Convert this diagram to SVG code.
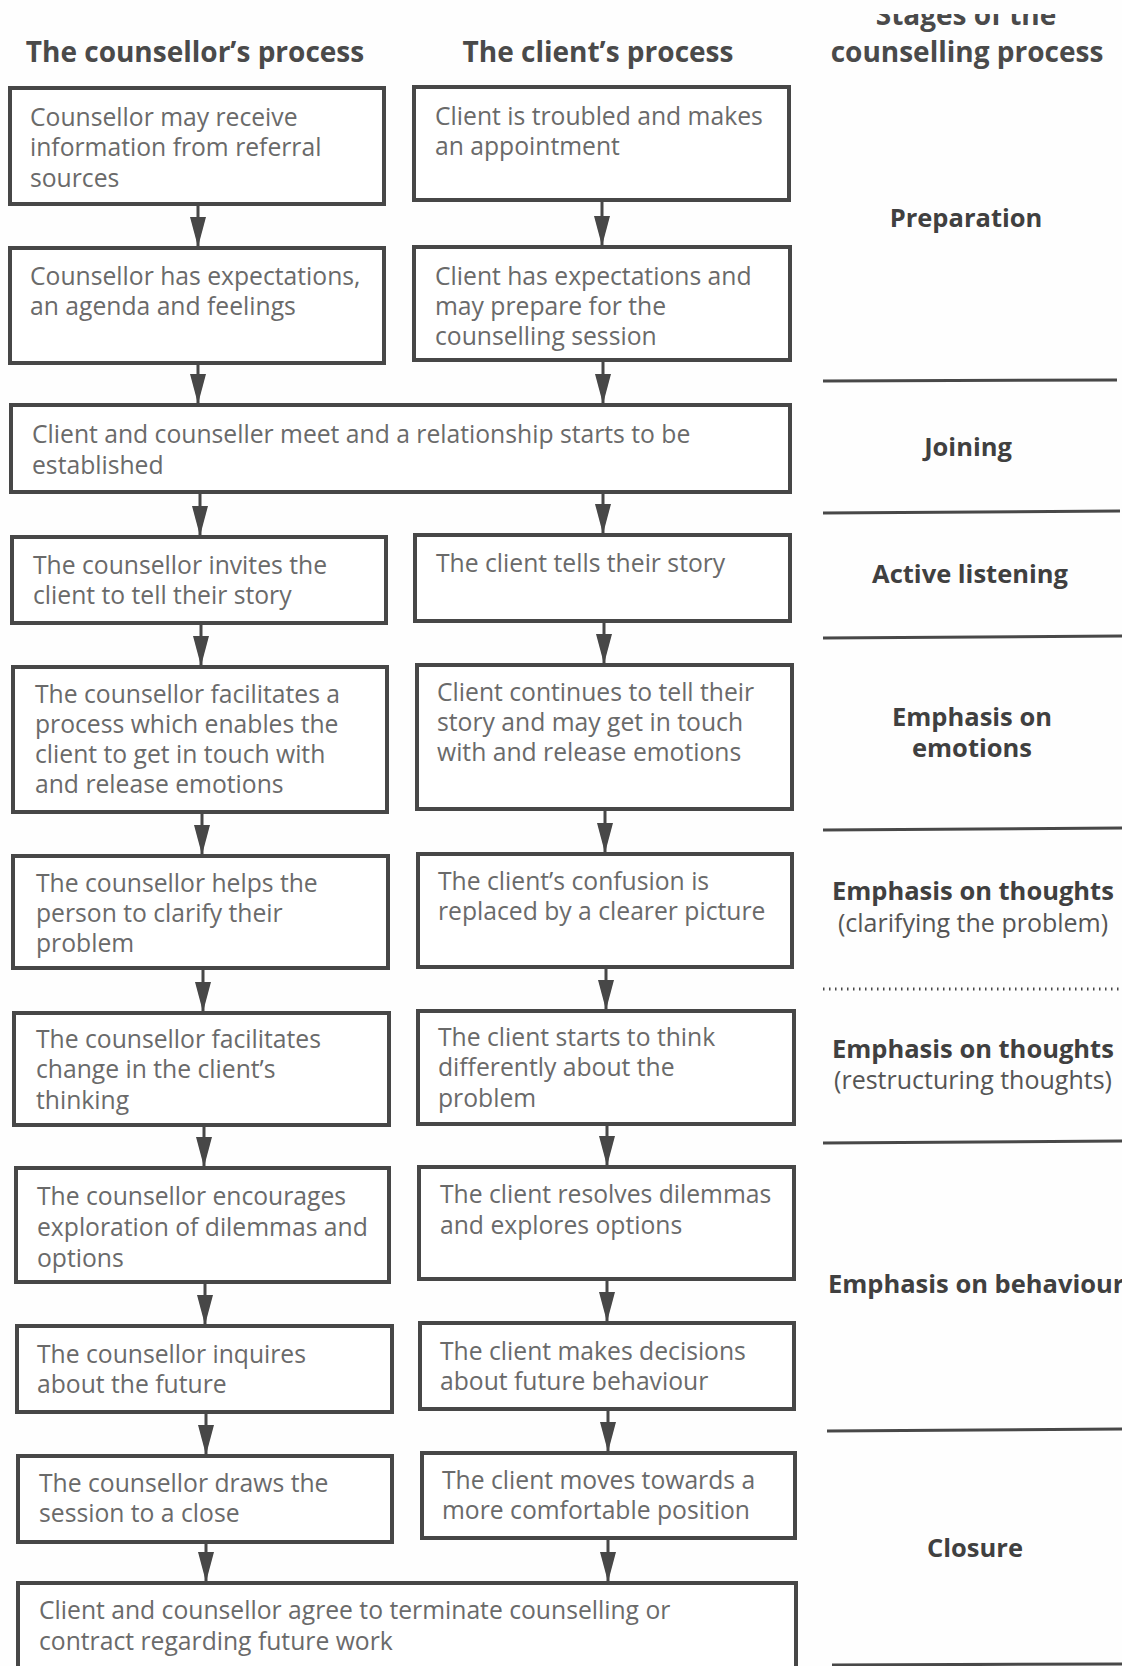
<svg xmlns="http://www.w3.org/2000/svg" width="1122" height="1666" viewBox="0 0 1122 1666">
<defs>
<style>
.box{fill:#fff;stroke:#474747;stroke-width:4}
.t{font-family:"Open Sans","Liberation Sans",sans-serif;font-size:24.7px;fill:#6a6a6a}
.h{font-family:"Open Sans","Liberation Sans",sans-serif;font-weight:700;font-size:28px;fill:#4a4a4a;text-anchor:middle}
.s{font-family:"Open Sans","Liberation Sans",sans-serif;font-weight:700;font-size:25.5px;fill:#404040;text-anchor:middle}
.sl{font-family:"Open Sans","Liberation Sans",sans-serif;font-weight:700;font-size:25.5px;fill:#404040}
.sr{font-family:"Open Sans","Liberation Sans",sans-serif;font-size:25px;fill:#555;text-anchor:middle}
.div{stroke:#484848;stroke-width:3;fill:none}
.dot{stroke:#484848;stroke-width:3;fill:none;stroke-dasharray:1.5 4.5}
.con{stroke:#474747;stroke-width:3;fill:none;marker-end:url(#ah)}
</style>
<marker id="ah" markerUnits="userSpaceOnUse" markerWidth="30" markerHeight="16" refX="29" refY="8" orient="auto">
<path d="M0,0 L30,8 L0,16 z" fill="#474747"/>
</marker>
<clipPath id="topclip"><rect x="800" y="14" width="322" height="40"/></clipPath>
</defs>
<rect x="0" y="0" width="1122" height="1666" fill="#fefefe"/>

<g id="headers">
<text class="h" x="195" y="62">The counsellor’s process</text>
<text class="h" x="598" y="62">The client’s process</text>
<text class="h" x="966" y="25" clip-path="url(#topclip)">Stages of the</text>
<text class="h" x="967" y="62">counselling process</text>
</g>

<g id="connectors">
<line class="con" x1="198" y1="204" x2="198" y2="246"/>
<line class="con" x1="198" y1="363" x2="198" y2="403"/>
<line class="con" x1="200" y1="492" x2="200" y2="535"/>
<line class="con" x1="201" y1="623" x2="201" y2="665"/>
<line class="con" x1="202" y1="812" x2="202" y2="854"/>
<line class="con" x1="203" y1="968" x2="203" y2="1011"/>
<line class="con" x1="204" y1="1125" x2="204" y2="1166"/>
<line class="con" x1="205" y1="1282" x2="205" y2="1324"/>
<line class="con" x1="206" y1="1412" x2="206" y2="1454"/>
<line class="con" x1="206" y1="1542" x2="206" y2="1581"/>
<line class="con" x1="602" y1="200" x2="602" y2="245"/>
<line class="con" x1="603" y1="360" x2="603" y2="403"/>
<line class="con" x1="603" y1="492" x2="603" y2="533"/>
<line class="con" x1="604" y1="621" x2="604" y2="663"/>
<line class="con" x1="605" y1="809" x2="605" y2="852"/>
<line class="con" x1="606" y1="967" x2="606" y2="1009"/>
<line class="con" x1="607" y1="1124" x2="607" y2="1165"/>
<line class="con" x1="607" y1="1279" x2="607" y2="1321"/>
<line class="con" x1="608" y1="1409" x2="608" y2="1451"/>
<line class="con" x1="608" y1="1538" x2="608" y2="1581"/>
</g>

<g id="c1"><rect class="box" x="10" y="88" width="374" height="116"/>
<text class="t" x="30" y="126">Counsellor may receive</text>
<text class="t" x="30" y="156">information from referral</text>
<text class="t" x="30" y="187">sources</text></g>
<g id="k1"><rect class="box" x="414" y="87" width="375" height="113"/>
<text class="t" x="435" y="125">Client is troubled and makes</text>
<text class="t" x="435" y="155">an appointment</text></g>

<g id="c2"><rect class="box" x="10" y="248" width="374" height="115"/>
<text class="t" x="30" y="285">Counsellor has expectations,</text>
<text class="t" x="30" y="315">an agenda and feelings</text></g>
<g id="k2"><rect class="box" x="414" y="247" width="376" height="113"/>
<text class="t" x="435" y="285">Client has expectations and</text>
<text class="t" x="435" y="315">may prepare for the</text>
<text class="t" x="435" y="345">counselling session</text></g>

<g id="j"><rect class="box" x="11" y="405" width="779" height="87"/>
<text class="t" x="32" y="443">Client and counseller meet and a relationship starts to be</text>
<text class="t" x="32" y="474">established</text></g>

<g id="c3"><rect class="box" x="12" y="537" width="374" height="86"/>
<text class="t" x="33" y="574">The counsellor invites the</text>
<text class="t" x="33" y="604">client to tell their story</text></g>
<g id="k3"><rect class="box" x="415" y="535" width="375" height="86"/>
<text class="t" x="436" y="572">The client tells their story</text></g>

<g id="c4"><rect class="box" x="13" y="667" width="374" height="145"/>
<text class="t" x="35" y="703">The counsellor facilitates a</text>
<text class="t" x="35" y="733">process which enables the</text>
<text class="t" x="35" y="763">client to get in touch with</text>
<text class="t" x="35" y="793">and release emotions</text></g>
<g id="k4"><rect class="box" x="417" y="665" width="375" height="144"/>
<text class="t" x="437" y="701">Client continues to tell their</text>
<text class="t" x="437" y="731">story and may get in touch</text>
<text class="t" x="437" y="761">with and release emotions</text></g>

<g id="c5"><rect class="box" x="13" y="856" width="375" height="112"/>
<text class="t" x="36" y="892">The counsellor helps the</text>
<text class="t" x="36" y="922">person to clarify their</text>
<text class="t" x="36" y="952">problem</text></g>
<g id="k5"><rect class="box" x="418" y="854" width="374" height="113"/>
<text class="t" x="438" y="890">The client’s confusion is</text>
<text class="t" x="438" y="920">replaced by a clearer picture</text></g>

<g id="c6"><rect class="box" x="14" y="1013" width="375" height="112"/>
<text class="t" x="36" y="1048">The counsellor facilitates</text>
<text class="t" x="36" y="1078">change in the client’s</text>
<text class="t" x="36" y="1109">thinking</text></g>
<g id="k6"><rect class="box" x="418" y="1011" width="376" height="113"/>
<text class="t" x="438" y="1046">The client starts to think</text>
<text class="t" x="438" y="1076">differently about the</text>
<text class="t" x="438" y="1107">problem</text></g>

<g id="c7"><rect class="box" x="16" y="1168" width="373" height="114"/>
<text class="t" x="37" y="1205">The counsellor encourages</text>
<text class="t" x="37" y="1236">exploration of dilemmas and</text>
<text class="t" x="37" y="1267">options</text></g>
<g id="k7"><rect class="box" x="419" y="1167" width="375" height="112"/>
<text class="t" x="440" y="1203">The client resolves dilemmas</text>
<text class="t" x="440" y="1234">and explores options</text></g>

<g id="c8"><rect class="box" x="17" y="1326" width="375" height="86"/>
<text class="t" x="37" y="1363">The counsellor inquires</text>
<text class="t" x="37" y="1393">about the future</text></g>
<g id="k8"><rect class="box" x="420" y="1323" width="374" height="86"/>
<text class="t" x="440" y="1360">The client makes decisions</text>
<text class="t" x="440" y="1390">about future behaviour</text></g>

<g id="c9"><rect class="box" x="18" y="1456" width="374" height="86"/>
<text class="t" x="39" y="1492">The counsellor draws the</text>
<text class="t" x="39" y="1522">session to a close</text></g>
<g id="k9"><rect class="box" x="422" y="1453" width="373" height="85"/>
<text class="t" x="442" y="1489">The client moves towards a</text>
<text class="t" x="442" y="1519">more comfortable position</text></g>

<g id="end"><rect class="box" x="18" y="1583" width="778" height="86"/>
<text class="t" x="39" y="1619">Client and counsellor agree to terminate counselling or</text>
<text class="t" x="39" y="1650">contract regarding future work</text></g>

<g id="stages">
<text class="s" x="966" y="227">Preparation</text>
<line class="div" x1="823" y1="381" x2="1117" y2="380"/>
<text class="s" x="968" y="456">Joining</text>
<line class="div" x1="823" y1="513" x2="1120" y2="511"/>
<line class="div" x1="823" y1="638" x2="1122" y2="636"/>
<text class="s" x="970" y="583">Active listening</text>
<text class="s" x="972" y="726">Emphasis on</text>
<text class="s" x="972" y="757">emotions</text>
<line class="div" x1="823" y1="830" x2="1122" y2="828"/>
<text class="sl" x="832" y="900">Emphasis on thoughts</text>
<text class="sr" x="973" y="932">(clarifying the problem)</text>
<line class="dot" x1="823" y1="989" x2="1122" y2="989"/>
<text class="sl" x="832" y="1058">Emphasis on thoughts</text>
<text class="sr" x="973" y="1089">(restructuring thoughts)</text>
<line class="div" x1="823" y1="1143" x2="1122" y2="1141"/>
<text class="sl" x="828" y="1293">Emphasis on behaviour</text>
<line class="div" x1="827" y1="1431" x2="1122" y2="1429"/>
<text class="s" x="975" y="1557">Closure</text>
<line class="div" x1="832" y1="1665" x2="1122" y2="1664"/>
</g>
</svg>
